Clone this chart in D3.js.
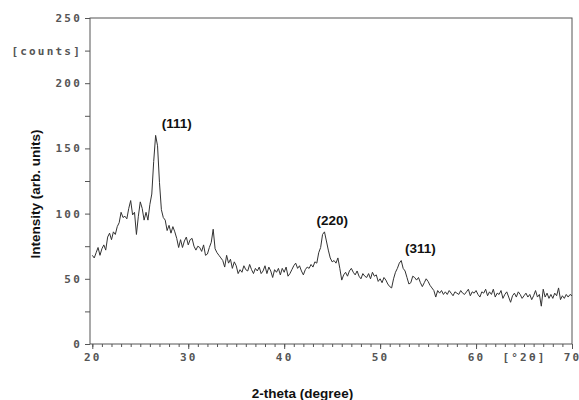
<!DOCTYPE html>
<html>
<head>
<meta charset="utf-8">
<script src="https://cdn.jsdelivr.net/npm/d3@7"></script>
<style>
  body { margin: 0; background: #fff; }
  svg { display: block; }
  .tick-lbl { font-family: "DejaVu Sans Mono", monospace; font-weight: bold; font-size: 11px; fill: #555; letter-spacing: 2.2px; }
  .title { font-family: "Liberation Sans", Arial, sans-serif; font-weight: bold; font-size: 13.5px; fill: #111; }
</style>
</head>
<body>
<svg id="chart" width="579" height="400"></svg>
<script>
// 2-theta scan, 0.2 degree steps from 20 to 70
const angleStart = 20;
const angleStep = 0.2;

const intensity = [
    // 20.0 - 24.8
    68, 66, 70, 74, 68, 73, 76, 72, 82, 85, 80, 86, 84, 90, 93, 101, 97, 98, 96, 104, 110, 99, 101, 84, 98,
    // 25.0 - 29.8
    109, 104, 95, 101, 95, 107, 115, 140, 160, 152, 124, 103, 97, 95, 87, 91, 85, 90, 86, 81, 74, 80, 74, 79, 82,
    // 30.0 - 34.8
    76, 80, 81, 75, 72, 75, 74, 71, 76, 68, 69, 74, 78, 88, 73, 70, 68, 66, 64, 59, 68, 62, 65, 58, 63,
    // 35.0 - 39.8
    60, 54, 57, 55, 60, 57, 56, 61, 57, 54, 58, 56, 59, 54, 56, 60, 54, 59, 56, 51, 57, 55, 58, 53, 58,
    // 40.0 - 44.8
    55, 59, 52, 54, 57, 60, 62, 58, 60, 56, 53, 57, 59, 58, 61, 59, 63, 62, 70, 74, 84, 86, 79, 72, 66,
    // 45.0 - 49.8
    63, 64, 62, 66, 58, 49, 53, 55, 52, 56, 58, 55, 53, 56, 52, 50, 54, 52, 51, 54, 50, 55, 52, 53, 48,
    // 50.0 - 54.8
    50, 47, 51, 49, 46, 44, 43, 50, 55, 58, 62, 64, 58, 56, 51, 46, 47, 52, 51, 49, 51, 47, 44, 47, 50,
    // 55.0 - 59.8
    48, 45, 43, 41, 36, 41, 39, 41, 38, 40, 38, 41, 39, 37, 40, 39, 38, 41, 39, 38, 40, 42, 37, 40, 39,
    // 60.0 - 64.8
    41, 38, 36, 40, 39, 42, 37, 40, 38, 42, 36, 39, 38, 41, 35, 38, 40, 36, 32, 37, 39, 36, 40, 38, 35,
    // 65.0 - 70.0
    37, 39, 36, 38, 34, 37, 41, 36, 38, 29, 42, 36, 39, 35, 38, 35, 39, 37, 43, 34, 37, 35, 38, 36, 38, 37
];

const yTicks = [0, 25, 50, 75, 100, 125, 150, 175, 200, 225, 250];
const yTickLabels = {0: '0', 50: '50', 100: '100', 150: '150', 200: '200', 225: '[counts]', 250: '250'};
const xMajorTicks = [20, 30, 40, 50, 60, 70];
const xTickLabels = {20: '20', 30: '30', 40: '40', 50: '50', 60: '60', 65: '[°2θ]', 70: '70'};

const peakLabels = ['(111)', '(220)', '(311)'];
const peakAngles = [28.8, 45.0, 54.2];
const peakLabelValues = [166, 91, 70];

const xTitle = '2-theta (degree)';
const yTitle = 'Intensity (arb. units)';

let data = intensity.map((v, i) => ({angle: angleStart + i * angleStep, value: v}));

let svg = d3.select('#chart');

let x = d3.scaleLinear().domain([20, 70]).range([92.3, 572]);
let y = d3.scaleLinear().domain([0, 250]).range([344, 18]);

// plot frame
svg.append('rect')
    .attr('x', 90).attr('y', 18)
    .attr('width', 572 - 90).attr('height', 344 - 18)
    .attr('fill', 'none')
    .attr('stroke', '#555')
    .attr('stroke-width', 1);

// y axis
svg.append('g')
    .attr('transform', 'translate(90,0)')
    .call(d3.axisLeft(y).tickValues(yTicks).tickSize(5).tickPadding(3)
        .tickFormat(d => yTickLabels[d] || ''));

// x axis, minor ticks every degree
svg.append('g')
    .attr('transform', 'translate(0,344)')
    .call(d3.axisBottom(x).tickValues(d3.range(20, 71, 1)).tickSize(3).tickPadding(6)
        .tickFormat(d => xTickLabels[d] || ''));

// longer ticks at the tens
svg.append('g')
    .attr('transform', 'translate(0,344)')
    .call(d3.axisBottom(x).tickValues(xMajorTicks).tickSize(5).tickFormat(''));

svg.selectAll('.domain').remove();
svg.selectAll('.tick line').attr('stroke', '#555');
svg.selectAll('.tick text').attr('class', 'tick-lbl');

// the scan itself
let line = d3.line()
    .x(d => x(d.angle))
    .y(d => y(d.value));

svg.append('path')
    .datum(data)
    .attr('fill', 'none')
    .attr('stroke', '#333')
    .attr('stroke-width', 1)
    .attr('stroke-linejoin', 'round')
    .attr('d', line);

// peak indices
peakLabels.forEach((lbl, i) => {
    svg.append('text')
        .attr('class', 'title')
        .attr('x', x(peakAngles[i]))
        .attr('y', y(peakLabelValues[i]))
        .attr('text-anchor', 'middle')
        .text(lbl);
});

svg.append('text')
    .attr('class', 'title')
    .attr('x', 302.5)
    .attr('y', 398)
    .attr('text-anchor', 'middle')
    .text(xTitle);

svg.append('text')
    .attr('class', 'title')
    .attr('transform', 'translate(40,194) rotate(-90)')
    .attr('text-anchor', 'middle')
    .text(yTitle);
</script>
</body>
</html>
